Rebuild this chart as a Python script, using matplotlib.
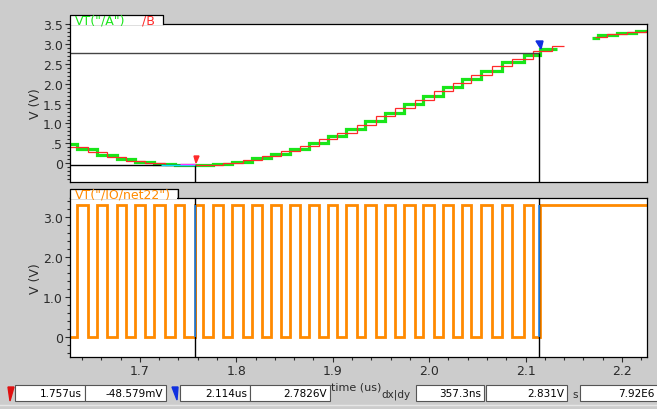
import numpy as np
import matplotlib
matplotlib.use("Agg")
import matplotlib.pyplot as plt
from matplotlib.lines import Line2D
from matplotlib.patches import Rectangle, Polygon
from matplotlib.ticker import MultipleLocator, FixedLocator

# ---------------------------------------------------------------------------
# data (time in us, voltage in V)
# ---------------------------------------------------------------------------
T_START, T_END = 1.6275, 2.226

# VT("/A"): held samples, stair edges + held values
A_EDGES = [1.615, 1.635, 1.6551, 1.6758, 1.6948, 1.7148, 1.7363, 1.757, 1.776,
           1.7957, 1.8158, 1.8358, 1.8562, 1.8755, 1.8946, 1.9143, 1.934, 1.954,
           1.9737, 1.9937, 2.0144, 2.0341, 2.0542, 2.0756, 2.0981, 2.1154, 2.133]
A_VALUES = [0.496, 0.347, 0.219, 0.109, 0.034, -0.021, -0.048, -0.044, -0.014,
            0.042, 0.126, 0.236, 0.370, 0.518, 0.680, 0.862, 1.059, 1.266,
            1.478, 1.693, 1.919, 2.126, 2.330, 2.536, 2.731, 2.868]
A2_EDGES = [2.169, 2.175, 2.195, 2.215, 2.23]
A2_VALUES = [3.155, 3.212, 3.279, 3.318]

# /B
B_EDGES = [1.6258, 1.6458, 1.6655, 1.6855, 1.7052, 1.7259, 1.7459, 1.7653,
           1.7864, 1.8065, 1.8262, 1.8462, 1.8659, 1.8859, 1.9045, 1.9253,
           1.9454, 1.9651, 1.9851, 2.0051, 2.0248, 2.0439, 2.0652, 2.086,
           2.1077, 2.127, 2.14]
B_VALUES = [0.414, 0.275, 0.160, 0.068, 0.002, -0.038, -0.050, -0.034, 0.012,
            0.084, 0.179, 0.301, 0.441, 0.604, 0.770, 0.972, 1.177, 1.384,
            1.602, 1.817, 2.029, 2.226, 2.436, 2.629, 2.810, 2.951]
B2_EDGES = [2.172, 2.185, 2.205, 2.225, 2.23]
B2_VALUES = [3.183, 3.249, 3.302, 3.32]

# VT("/IO/net22"): clock edges
CLK_RISE = [1.6350, 1.6551, 1.6758, 1.6948, 1.7148, 1.7363, 1.7570, 1.7760,
            1.7957, 1.8158, 1.8358, 1.8562, 1.8755, 1.8946, 1.9143, 1.9340,
            1.9540, 1.9737, 1.9937, 2.0144, 2.0341, 2.0542, 2.0756, 2.0981,
            2.1150]
CLK_FALL = [1.6458, 1.6655, 1.6855, 1.7052, 1.7259, 1.7459, 1.7653, 1.7864,
            1.8065, 1.8262, 1.8462, 1.8659, 1.8859, 1.9045, 1.9253, 1.9454,
            1.9651, 1.9851, 2.0051, 2.0248, 2.0439, 2.0652, 2.0860, 2.1077]
CLK_LOW, CLK_HIGH = 0.0, 3.32

CURSOR_T = [1.757, 2.114]
CURSOR_V = [-0.048579, 2.7826]
READOUT = ["1.757us", "-48.579mV", "2.114us", "2.7826V", "357.3ns", "2.831V", "7.92E6"]

TOP_YTICKS = [0, 0.5, 1.0, 1.5, 2.0, 2.5, 3.0, 3.5]
TOP_YLABELS = ["0", ".5", "1.0", "1.5", "2.0", "2.5", "3.0", "3.5"]
BOT_YTICKS = [0, 1, 2, 3]
BOT_YLABELS = ["0", "1.0", "2.0", "3.0"]
XTICKS = [1.7, 1.8, 1.9, 2.0, 2.1, 2.2]

GREEN, RED, ORANGE, BLUE = "#19e619", "#ff2a2a", "#ff8a00", "#2b8cf0"
BG, INK = "#cccccc", "#2b2b2b"

W, H = 657, 410


def fx(x):
    return x / W


def fy(y):
    return 1 - y / H


def style_axis(ax):
    for s in ax.spines.values():
        s.set_color("black")
        s.set_linewidth(0.9)
    ax.tick_params(which="both", direction="out", colors=INK, labelsize=9,
                   width=0.8, pad=1.5)
    ax.tick_params(which="major", length=3.6)
    ax.tick_params(which="minor", length=2.2)


fig = plt.figure(figsize=(W / 100, H / 100), dpi=100, facecolor=BG)

ax1 = fig.add_axes([fx(70), fy(183), fx(647) - fx(70), fy(25) - fy(183)])
ax2 = fig.add_axes([fx(70), fy(358), fx(647) - fx(70), fy(199) - fy(358)])

# --- top panel -------------------------------------------------------------
ax1.stairs(A_VALUES, A_EDGES, baseline=None, color=GREEN, lw=2.3)
ax1.stairs(A2_VALUES, A2_EDGES, baseline=None, color=GREEN, lw=2.3)
ax1.stairs(B_VALUES, B_EDGES, baseline=None, color=RED, lw=0.9)
ax1.stairs(B2_VALUES, B2_EDGES, baseline=None, color=RED, lw=0.9)

ax1.set_xlim(T_START, T_END)
ax1.set_ylim(-0.47, 3.5)
ax1.hlines(CURSOR_V[0], T_START, CURSOR_T[0], color="black", lw=1)
ax1.hlines(CURSOR_V[1], T_START, CURSOR_T[1], color="#444444", lw=1)
ax1.hlines(CURSOR_V[0], 1.7215, CURSOR_T[0], color="#00e5ff", lw=1, zorder=4)
ax1.hlines(CURSOR_V[0] + 0.03, 1.742, CURSOR_T[0], color="#ff33ff", lw=1, zorder=4)
ax1.vlines(CURSOR_T[0], -0.47, CURSOR_V[0], color="black", lw=1)
ax1.vlines(CURSOR_T[1], -0.47, CURSOR_V[1], color="black", lw=1)

ax1.set_yticks(TOP_YTICKS)
ax1.set_yticklabels(TOP_YLABELS)
ax1.yaxis.set_minor_locator(MultipleLocator(0.1))
ax1.tick_params(axis="x", which="both", bottom=False, labelbottom=False)
style_axis(ax1)

# --- bottom panel ----------------------------------------------------------
clk_edges = [T_START]
clk_vals = [CLK_LOW]
for i, r in enumerate(CLK_RISE):
    clk_edges.append(r)
    clk_vals.append(CLK_HIGH)
    if i < len(CLK_FALL):
        clk_edges.append(CLK_FALL[i])
        clk_vals.append(CLK_LOW)
clk_edges.append(T_END)
ax2.stairs(clk_vals, clk_edges, baseline=None, color=ORANGE, lw=2.0)

ax2.set_xlim(T_START, T_END)
ax2.set_ylim(-0.51, 3.485)
for t in CURSOR_T:
    ax2.axvline(t, color="black", lw=1)
    ax2.vlines(t, CLK_LOW, CLK_HIGH, color=BLUE, lw=1.2, zorder=4)

ax2.set_yticks(BOT_YTICKS)
ax2.set_yticklabels(BOT_YLABELS)
ax2.yaxis.set_minor_locator(MultipleLocator(0.2))
ax2.set_xticks(XTICKS)
ax2.set_xticklabels([f"{v:.1f}" for v in XTICKS])
ax2.xaxis.set_minor_locator(MultipleLocator(0.02))
style_axis(ax2)

# --- viewer furniture (tabs, labels, cursor readouts) -----------------------
for top, right, bot in [(16, 163, 25), (190, 178, 199)]:
    fig.add_artist(Rectangle((fx(70.5), fy(bot + 1)), fx(right - 71), fy(top) - fy(bot + 1),
                             facecolor="white", edgecolor="none", zorder=5))
    fig.add_artist(Line2D([fx(70), fx(70), fx(right), fx(right)],
                          [fy(bot), fy(top), fy(top), fy(bot)],
                          color="black", lw=0.9, zorder=6))

fig.text(fx(75), fy(21), 'VT("/A")', color=GREEN, fontsize=9, va="center", zorder=7)
fig.text(fx(142), fy(21), "/B", color=RED, fontsize=9, va="center", zorder=7)
fig.text(fx(75), fy(195), 'VT("/IO/net22")', color=ORANGE, fontsize=9,
         va="center", zorder=7)

for yc in (104, 279):
    fig.text(fx(35), fy(yc), "V (V)", rotation=90, fontsize=9, color=INK,
             ha="center", va="center")

# cursor flags on the traces
fig.add_artist(Polygon([(fx(194), fy(157)), (fx(199), fy(157)), (fx(196), fy(164))],
                       closed=True, color=RED, zorder=7))
fig.add_artist(Polygon([(fx(536), fy(42)), (fx(543), fy(42)), (fx(541), fy(50))],
                       closed=True, color="#1030e0", zorder=7))

# readout boxes
boxes = [(15, 85), (85, 166), (180, 250), (250, 330), (416, 484), (486, 567), (580, 660)]
for (x0, x1), txt in zip(boxes, READOUT):
    fig.add_artist(Rectangle((fx(x0), fy(402)), fx(x1 - x0), fy(386) - fy(402),
                             facecolor="white", edgecolor="#555555", lw=0.8))
    fig.text(fx(min(x1, 657) - 3), fy(394.5), txt, fontsize=7.5, color="black",
             ha="right", va="center")

fig.add_artist(Polygon([(fx(8), fy(388)), (fx(14), fy(388)), (fx(10), fy(402))],
                       closed=True, color="#e01010"))
fig.add_artist(Polygon([(fx(172), fy(388)), (fx(178), fy(388)), (fx(177), fy(401))],
                       closed=True, color="#1030e0"))
fig.text(fx(331), fy(388), "time (us)", fontsize=8, color=INK, va="center")
fig.text(fx(381), fy(395), "dx|dy", fontsize=7.5, color=INK, va="center")
fig.text(fx(572), fy(395), "s", fontsize=7.5, color=INK, va="center")
fig.add_artist(Line2D([0, 1], [fy(406), fy(406)], color="#e6e6e6", lw=1))

fig.savefig("out.png", dpi=100, facecolor=BG)
